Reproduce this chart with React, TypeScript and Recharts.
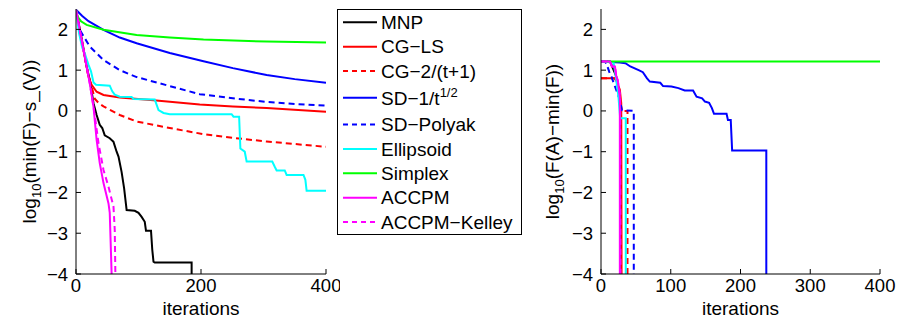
import React from 'react';
import { LineChart, Line, XAxis, YAxis } from 'recharts';

const FONT = '"Liberation Sans", Arial, Helvetica, sans-serif';

// ---------- series meta ----------
const seriesNames = ['MNP', 'CG−LS', 'CG−2/(t+1)', 'SD−1/t', 'SD−Polyak', 'Ellipsoid', 'Simplex', 'ACCPM', 'ACCPM−Kelley'];
const seriesColors = ['#000000', '#ff0000', '#ff0000', '#0000ff', '#0000ff', '#00ffff', '#00ff00', '#ff00ff', '#ff00ff'];
const seriesDashed = [false, false, true, false, true, false, false, false, true];

// ---------- left panel data: [iteration, log10(min(F) - s_(V))] ----------
const leftMNP = [[0,2.48],[10,1.7],[17,1.09],[22,0.76],[28,0.19],[33,-0.1],[38,-0.34],[42,-0.42],[46,-0.6],[54,-0.67],[60,-0.76],[65,-1.0],[68,-1.12],[73,-1.5],[77,-1.9],[80,-2.3],[81,-2.43],[94,-2.45],[100,-2.5],[105,-2.6],[110,-2.72],[112,-2.94],[120,-2.94],[122,-3.4],[124,-3.7],[126,-3.72],[185,-3.72],[185,-4]];
const leftCGLS = [[0,2.48],[14,1.33],[20,0.84],[25,0.64],[33,0.47],[44,0.39],[70,0.33],[124,0.26],[198,0.16],[251,0.11],[305,0.07],[400,-0.02]];
const leftCG2 = [[0,2.48],[14,1.33],[20,0.84],[25,0.6],[30,0.3],[37,0.18],[44,0.11],[70,-0.1],[97,-0.26],[150,-0.42],[204,-0.57],[251,-0.66],[305,-0.75],[400,-0.88]];
const leftSD = [[0,2.48],[10,2.33],[20,2.2],[44,1.99],[70,1.8],[97,1.66],[150,1.42],[204,1.22],[251,1.05],[305,0.88],[350,0.78],[400,0.69]];
const leftPolyak = [[0,2.45],[6,1.99],[22,1.58],[44,1.25],[70,1.0],[97,0.83],[150,0.61],[198,0.41],[251,0.31],[305,0.22],[350,0.17],[400,0.13]];
const leftEllipsoid = [[0,2.48],[5,1.9],[10,1.55],[14,1.41],[20,1.13],[24,0.97],[28,0.7],[32,0.64],[54,0.62],[58,0.48],[62,0.4],[70,0.35],[89,0.34],[92,0.29],[126,0.28],[132,0.02],[140,-0.05],[150,-0.08],[249,-0.08],[252,-0.14],[261,-0.14],[263,-0.92],[270,-1.0],[273,-1.24],[314,-1.24],[318,-1.37],[321,-1.46],[334,-1.46],[337,-1.57],[364,-1.57],[367,-1.69],[369,-1.96],[400,-1.96]];
const leftSimplex = [[0,2.48],[3,2.3],[8,2.2],[17,2.11],[44,1.99],[97,1.86],[150,1.8],[204,1.75],[305,1.7],[400,1.68]];
const leftACCPM = [[0,2.48],[12,1.5],[22,0.68],[28,0.1],[33,-0.71],[38,-1.28],[44,-1.77],[52,-2.27],[54,-2.5],[57,-4]];
const leftKelley = [[0,2.48],[12,1.5],[22,0.68],[30,-0.1],[36,-0.79],[44,-1.45],[52,-1.86],[60,-2.35],[62,-2.92],[63,-4]];

// ---------- right panel data: [iteration, log10(F(A) - min(F))] ----------
const rightMNP = [[0,1.21],[13,1.21],[16,1.09],[22,0.84],[26,0.35],[28,0],[28,-4]];
const rightCGLS = [[0,0.8],[20,0.8],[23,0.7],[27,0.52],[29,0.19],[29.5,-4]];
const rightCG2 = [[0,0.8],[20,0.8],[24,0.6],[28,0.2],[30,0],[38,0],[38,-4]];
const rightSD = [[0,1.21],[27,1.19],[35,1.17],[42,1.09],[54,1.0],[60,0.95],[66,0.8],[70,0.72],[85,0.69],[89,0.61],[101,0.6],[111,0.56],[120,0.5],[132,0.5],[137,0.35],[145,0.31],[149,0.23],[155,0.2],[159,0.07],[162,-0.07],[180,-0.07],[182,-0.22],[186,-0.22],[188,-0.97],[237,-0.97],[237,-4]];
const rightPolyak = [[0,1.21],[6,1.2],[8,1.15],[12,0.95],[15,0.84],[20,0.6],[27,0.27],[30,0.02],[47,0],[47,-4]];
const rightEllipsoid = [[0,1.21],[18,1.19],[20.5,0.92],[25,0.35],[27.5,-0.18],[35.5,-0.18],[35.5,-4]];
const rightSimplex = [[0,1.21],[400,1.21]];
const rightACCPM = [[0,1.21],[13,1.21],[15.7,1.09],[20,1.09],[22,0.84],[24,0.75],[27,0.35],[27,-4]];
const rightKelley = [[0,1.21],[13,1.21],[15.7,1.09],[20,1.09],[22,0.84],[24,0.75],[27.5,0.35],[28,-4]];

const leftSeries = [leftMNP, leftCGLS, leftCG2, leftSD, leftPolyak, leftEllipsoid, leftSimplex, leftACCPM, leftKelley];
const rightSeries = [rightMNP, rightCGLS, rightCG2, rightSD, rightPolyak, rightEllipsoid, rightSimplex, rightACCPM, rightKelley];

// ---------- axes ----------
const yTicks = [-4, -3, -2, -1, 0, 1, 2];
const yDomain = [-4, 2.5];
const leftXTicks = [0, 200, 400];
const rightXTicks = [0, 100, 200, 300, 400];
const xDomain = [0, 400];
const xLabelText = 'iterations';
const leftYLabelRest = '(min(F)−s_(V))';
const rightYLabelRest = '(F(A)−min(F))';

const fmt = (v: number) => (v < 0 ? '−' + Math.abs(v) : String(v));
const toPts = (arr: number[][]) => arr.map(([x, y]) => ({ x, y }));

const tickStyle = { fontSize: 18.5, fontFamily: FONT, fill: '#000' };

const YLabel = (props: any) => {
  const vb = props.viewBox || { x: 0, y: 0, width: 0, height: 0 };
  const cx = vb.x + props.base;
  const cy = vb.y + vb.height / 2;
  return (
    <text x={cx} y={cy} transform={`rotate(-90 ${cx} ${cy})`} textAnchor="middle" fontSize={19} fontFamily={FONT} fill="#000">
      log<tspan fontSize={13} dy={5}>10</tspan><tspan dy={-5}>{props.rest}</tspan>
    </text>
  );
};

const XLabel = (props: any) => {
  const vb = props.viewBox || { x: 0, y: 0, width: 0, height: 0 };
  return (
    <text x={vb.x + vb.width / 2} y={vb.y + 41} textAnchor="middle" fontSize={19} fontFamily={FONT} fill="#000">
      {xLabelText}
    </text>
  );
};

function Panel({ series, xTicks, width, yAxisWidth, rightMargin, labelBase, labelRest }: any) {
  return (
    <LineChart width={width} height={322} margin={{ top: 9, right: rightMargin, bottom: 0, left: 0 }}>
      <XAxis xAxisId="b" type="number" dataKey="x" domain={xDomain} ticks={xTicks} allowDataOverflow
        height={48} tickSize={-5} tickMargin={10} tick={tickStyle} tickFormatter={fmt}
        axisLine={{ stroke: '#000' }} tickLine={{ stroke: '#000' }} interval={0}
        label={<XLabel />} />
      <XAxis xAxisId="t" orientation="top" type="number" dataKey="x" domain={xDomain} ticks={xTicks} allowDataOverflow
        height={0} tickSize={-5} tick={false} axisLine={{ stroke: '#000' }} tickLine={{ stroke: '#000' }} interval={0} />
      <YAxis yAxisId="l" type="number" domain={yDomain} ticks={yTicks} allowDataOverflow
        width={yAxisWidth} tickSize={-5} tickMargin={13} tick={tickStyle} tickFormatter={fmt}
        axisLine={{ stroke: '#000' }} tickLine={{ stroke: '#000' }} interval={0}
        label={<YLabel base={labelBase} rest={labelRest} />} />
      <YAxis yAxisId="r" orientation="right" type="number" domain={yDomain} ticks={yTicks} allowDataOverflow
        width={0} tickSize={-5} tick={false} axisLine={{ stroke: '#000' }} tickLine={{ stroke: '#000' }} interval={0} />
      {series.map((s: number[][], i: number) => (
        <Line key={i} xAxisId="b" yAxisId="l" data={toPts(s)} dataKey="y" type="linear"
          stroke={seriesColors[i]} strokeWidth={2} strokeDasharray={seriesDashed[i] ? '6 4' : undefined}
          dot={false} activeDot={false} isAnimationActive={false} />
      ))}
    </LineChart>
  );
}

function LegendBox() {
  const rowY = (i: number) => 14.3 + i * 24.4 + (i >= 3 ? 2.3 : 0) + (i >= 4 ? 2.3 : 0);
  return (
    <svg width={187} height={228} style={{ position: 'absolute', left: 336, top: 8 }}>
      <rect x={1.5} y={1.5} width={184} height={225} fill="#fff" stroke="#000" strokeWidth={1} />
      {seriesNames.map((name, i) => {
        const y = rowY(i);
        return (
          <g key={i}>
            <line x1={7} x2={41} y1={y} y2={y} stroke={seriesColors[i]} strokeWidth={2}
              strokeDasharray={seriesDashed[i] ? '5 4' : undefined} />
            <text x={45} y={y + 6.7} fontSize={19} fontFamily={FONT} fill="#000">
              {name}
              {i === 3 ? <tspan fontSize={13} dy={-8}>1/2</tspan> : null}
            </text>
          </g>
        );
      })}
    </svg>
  );
}

export default function App() {
  return (
    <div style={{ position: 'absolute', left: 0, top: 0, width: 899, height: 322, background: '#fff' }}>
      <div style={{ position: 'absolute', left: 0, top: 0 }}>
        <Panel series={leftSeries} xTicks={leftXTicks} width={340} yAxisWidth={76} rightMargin={14} labelBase={36} labelRest={leftYLabelRest} />
      </div>
      <LegendBox />
      <div style={{ position: 'absolute', left: 522, top: 0 }}>
        <Panel series={rightSeries} xTicks={rightXTicks} width={377} yAxisWidth={79} rightMargin={19} labelBase={37} labelRest={rightYLabelRest} />
      </div>
    </div>
  );
}
